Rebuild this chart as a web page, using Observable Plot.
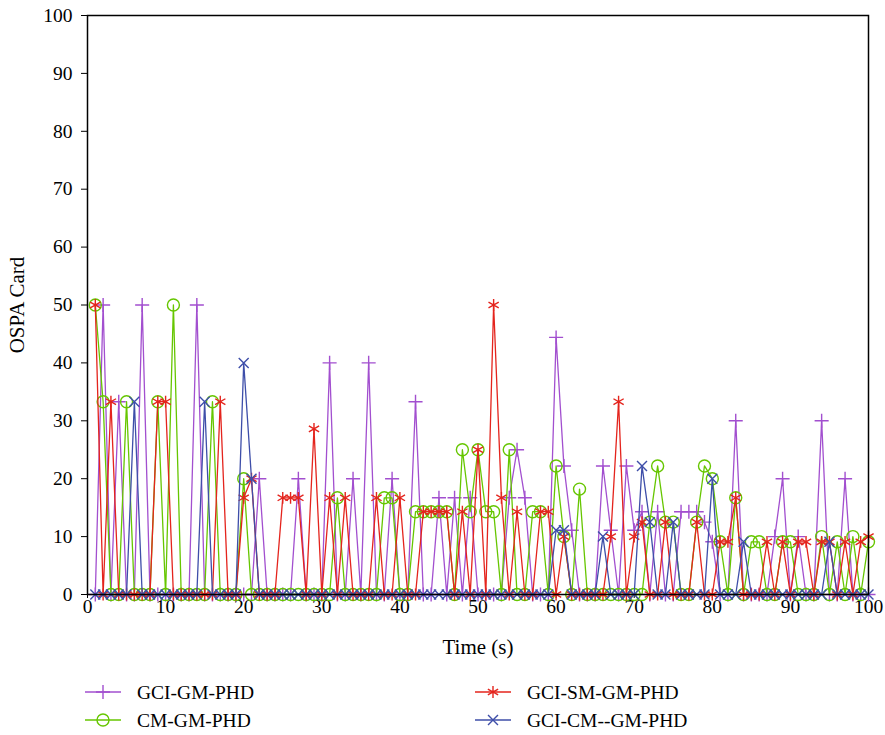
<!DOCTYPE html>
<html><head><meta charset="utf-8">
<script src="https://cdn.jsdelivr.net/npm/d3@7"></script>
<script src="https://cdn.jsdelivr.net/npm/@observablehq/plot@0.6"></script>
<style>
body{margin:0;background:#fff;font-family:"Liberation Serif",serif;}
#wrap{position:relative;width:885px;height:735px;}
#legend{position:absolute;left:0;top:0;width:885px;height:735px;pointer-events:none;}
</style></head><body>
<div id="wrap"><div id="chart"></div><svg id="legend" width="885" height="735"></svg></div>
<script>
const seriesNames = ["GCI-GM-PHD","CM-GM-PHD","GCI-SM-GM-PHD","GCI-CM--GM-PHD"];
const seriesColors = ["#a24fcf","#66c600","#e4241d","#3e4ea9"];
const seriesSymbols = ["plus","circle","asterisk","times"];
const xTicks = [0,10,20,30,40,50,60,70,80,90,100];
const yTicks = [0,10,20,30,40,50,60,70,80,90,100];
const timeSteps = d3.range(1,101);

// GCI-GM-PHD (t = 1..100)
const gciGm = [
 0,50,0,33.3,0,0,50,0,0,0,
 0,0,0,50,0,0,0,0,0,0,
 0,20,0,0,0,0,20,0,0,0,
 40,0,0,20,0,40,0,0,20,0,
 0,33.3,0,0,16.7,0,16.7,0,16.7,0,
 0,0,0,16.7,25,16.7,0,0,0,44.4,
 22.2,11.1,0,0,0,22.2,11.1,0,22.2,11.1,
 14.3,0,14.3,0,0,14.3,14.3,14.3,12.5,9.1,
 0,0,30,0,0,0,0,10,20,0,
 10,0,0,30,0,0,20,0,0,0];
// CM-GM-PHD
const cmGm = [
 50,33.3,0,0,33.3,0,0,0,33.3,0,
 50,0,0,0,0,33.3,0,0,0,20,
 0,0,0,0,0,0,0,0,0,0,
 0,16.7,0,0,0,0,0,16.7,16.7,0,
 0,14.3,14.3,14.3,14.3,14.3,0,25,14.3,25,
 14.3,14.3,0,25,0,0,14.3,14.3,0,22.2,
 10,0,18.2,0,0,0,0,0,0,0,
 0,12.5,22.2,12.5,12.5,0,0,12.5,22.2,20,
 9.1,0,16.7,0,9.1,9.1,0,0,9.1,9.1,
 0,0,0,10,0,9.1,0,10,0,9.1];
// GCI-SM-GM-PHD
const gciSm = [
 50,0,33.3,0,0,0,0,0,33.3,33.3,
 0,0,0,0,0,0,33.3,0,0,16.7,
 20,0,0,0,16.7,16.7,16.7,0,28.6,0,
 16.7,0,16.7,0,0,0,16.7,0,0,16.7,
 0,0,14.3,14.3,14.3,14.3,0,14.3,0,25,
 0,50,16.7,0,14.3,0,0,14.3,14.3,0,
 10,0,0,0,0,0,10,33.3,0,10,
 12.5,0,0,12.5,0,0,0,12.5,0,0,
 9.1,9.1,16.7,0,0,0,9.1,0,9.1,0,
 9.1,9.1,0,9.1,9.1,0,9.1,0,9.1,10];
// GCI-CM--GM-PHD
const gciCm = [
 0,0,0,0,0,33.3,0,0,0,0,
 0,0,0,0,33.3,0,0,0,0,40,
 20,0,0,0,0,0,0,0,0,0,
 0,0,0,0,0,0,0,0,0,0,
 0,0,0,0,0,0,0,0,0,0,
 0,0,0,0,0,0,0,0,0,11.1,
 11.1,0,0,0,0,10,0,0,0,0,
 22.2,12.5,0,0,12.5,0,0,0,0,20,
 0,0,0,9.1,0,0,0,0,0,0,
 0,0,0,0,9.1,0,0,0,0,0];

const seriesValues = [gciGm, cmGm, gciSm, gciCm];
const symbolR = {plus:4.6, circle:6, asterisk:5.6, times:4.6};

const marks = [];
seriesValues.forEach((vals, k) => {
  const data = vals.map((v, i) => ({t: timeSteps[i], v, s: seriesNames[k]}));
  marks.push(Plot.line(data, {x: "t", y: "v", stroke: seriesColors[k], strokeWidth: 1.3}));
  marks.push(Plot.dot(data, {x: "t", y: "v", stroke: seriesColors[k], symbol: seriesSymbols[k], r: symbolR[seriesSymbols[k]], fill: "none", strokeWidth: 1.4}));
});

const chart = Plot.plot({
  width: 885, height: 665,
  marginLeft: 87, marginRight: 17, marginTop: 15, marginBottom: 71,
  style: {fontFamily: "Liberation Serif, serif", fontSize: "19.5px", color: "#000", background: "#fff", overflow: "visible"},
  x: {domain: [0, 100]},
  y: {domain: [0, 100]},
  marks: [
    Plot.axisX({ticks: xTicks, tickSize: 4, tickPadding: 1, label: null, fontSize: 19.5}),
    Plot.axisX({ticks: [], tickSize: 0, label: "Time (s)", labelAnchor: "center", labelArrow: "none", labelOffset: 59, fontSize: 21}),
    Plot.axisY({ticks: yTicks, tickSize: 6, tickPadding: 9, label: null, fontSize: 19.5}),
    Plot.axisY({ticks: [], tickSize: 0, label: "OSPA Card", labelAnchor: "center", labelArrow: "none", labelOffset: 78, fontSize: 21}),
    ...marks,
    Plot.frame({stroke: "#000", strokeWidth: 1.5})
  ]
});
document.getElementById("chart").appendChild(chart);

// legend
const lg = d3.select("#legend");
const legendPos = [[85,692],[85,720],[475,692],[475,720]];
const symMap = {plus: d3.symbolPlus, circle: d3.symbolCircle, asterisk: d3.symbolAsterisk, times: d3.symbolTimes};
seriesNames.forEach((name, k) => {
  const [x0, y0] = legendPos[k];
  const g = lg.append("g").attr("transform", `translate(${x0},${y0})`);
  g.append("line").attr("x1", 0).attr("x2", 36).attr("y1", 0).attr("y2", 0).attr("stroke", seriesColors[k]).attr("stroke-width", 1.5);
  const r = symbolR[seriesSymbols[k]];
  g.append("path").attr("transform", "translate(18,0)").attr("d", d3.symbol(symMap[seriesSymbols[k]], Math.PI * r * r)())
    .attr("fill", "none").attr("stroke", seriesColors[k]).attr("stroke-width", 1.4);
  g.append("text").attr("x", 52).attr("y", 0).attr("dy", "0.35em").attr("font-size", 19.5).attr("font-family", "Liberation Serif, serif").text(name);
});
</script>
</body></html>
